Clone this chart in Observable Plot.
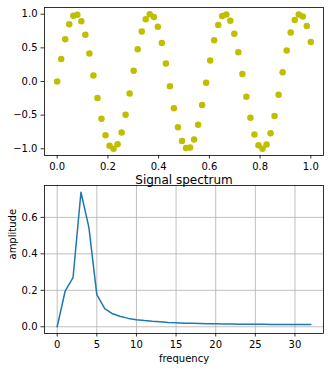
<!DOCTYPE html>
<html><head><meta charset="utf-8">
<script src="https://cdn.jsdelivr.net/npm/d3@7"></script>
<script src="https://cdn.jsdelivr.net/npm/@observablehq/plot@0.6"></script>
<style>
html,body{margin:0;padding:0;background:#fff;}
#wrap{position:relative;width:330px;height:371px;overflow:hidden;font-family:"DejaVu Sans";}
#wrap svg{position:absolute;left:0;background:transparent;overflow:visible;}
</style></head>
<body><div id="wrap"></div>
<script>
const time = [0,0.0159,0.0317,0.0476,0.0635,0.0794,0.0952,0.1111,0.1270,0.1429,0.1587,0.1746,0.1905,0.2063,0.2222,0.2381,0.2540,0.2698,0.2857,0.3016,0.3175,0.3333,0.3492,0.3651,0.3810,0.3968,0.4127,0.4286,0.4444,0.4603,0.4762,0.4921,0.5079,0.5238,0.5397,0.5556,0.5714,0.5873,0.6032,0.6190,0.6349,0.6508,0.6667,0.6825,0.6984,0.7143,0.7302,0.7460,0.7619,0.7778,0.7937,0.8095,0.8254,0.8413,0.8571,0.8730,0.8889,0.9048,0.9206,0.9365,0.9524,0.9683,0.9841,1.0];
const signal = [0,0.333,0.627,0.850,0.977,0.992,0.895,0.695,0.416,0.090,-0.247,-0.555,-0.800,-0.954,-0.999,-0.931,-0.757,-0.496,-0.179,0.159,0.478,0.743,0.924,0.999,0.960,0.812,0.571,0.266,-0.070,-0.398,-0.681,-0.885,-0.990,-0.981,-0.861,-0.643,-0.351,-0.020,0.314,0.612,0.840,0.973,0.995,0.903,0.709,0.434,0.110,-0.227,-0.538,-0.788,-0.948,-1.000,-0.938,-0.769,-0.513,-0.198,0.139,0.461,0.730,0.916,0.997,0.965,0.824,0.588];
const frequency = [0,1,2,3,4,5,6,7,8,9,10,11,12,13,14,15,16,17,18,19,20,21,22,23,24,25,26,27,28,29,30,31,32];
const amplitude = [0,0.195,0.269,0.738,0.545,0.176,0.100,0.071,0.056,0.046,0.039,0.034,0.030,0.027,0.024,0.022,0.020,0.019,0.018,0.017,0.016,0.0155,0.015,0.0145,0.014,0.014,0.0135,0.013,0.013,0.013,0.0125,0.0125,0.0125];
const topXTicks = [0,0.2,0.4,0.6,0.8,1.0];
const topYTicks = [-1,-0.5,0,0.5,1];
const botXTicks = [0,5,10,15,20,25,30];
const botYTicks = [0,0.2,0.4,0.6];

const sigData = time.map((t,i)=>({t, v: signal[i]}));
const specData = frequency.map((f,i)=>({f, a: amplitude[i]}));
const fmt1 = d3.format(".1f");
const style = {fontFamily:"DejaVu Sans", fontSize:"10px", color:"black", background:"transparent", overflow:"visible"};

const topChart = Plot.plot({
  width:330, height:175,
  marginLeft:44, marginRight:7, marginTop:7, marginBottom:20,
  style,
  x:{domain:[-0.05,1.05]},
  y:{domain:[-1.1,1.1]},
  marks:[
    Plot.dot(sigData,{x:"t", y:"v", r:3.25, fill:"#bfbf00", stroke:null}),
    Plot.frame({stroke:"black", strokeWidth:0.8}),
    Plot.axisX(topXTicks,{tickSize:3.5, tickPadding:3.5, tickFormat:fmt1, label:null, stroke:"black", strokeWidth:0.8}),
    Plot.axisY(topYTicks,{tickSize:3.5, tickPadding:3.5, tickFormat:fmt1, label:null, stroke:"black", strokeWidth:0.8})
  ]
});
topChart.style.top = "0px";

const botChart = Plot.plot({
  width:330, height:211,
  marginLeft:44, marginRight:7, marginTop:25, marginBottom:38,
  style,
  x:{domain:[-1.6,33.6]},
  y:{domain:[-0.0369,0.775]},
  marks:[
    Plot.gridX(botXTicks,{stroke:"#b0b0b0", strokeOpacity:1, strokeWidth:0.8}),
    Plot.gridY(botYTicks,{stroke:"#b0b0b0", strokeOpacity:1, strokeWidth:0.8}),
    Plot.line(specData,{x:"f", y:"a", stroke:"#1f77b4", strokeWidth:1.5}),
    Plot.frame({stroke:"black", strokeWidth:0.8}),
    Plot.axisX(botXTicks,{tickSize:3.5, tickPadding:3.5, tickFormat:d3.format("d"), label:null, stroke:"black", strokeWidth:0.8}),
    Plot.axisY(botYTicks,{tickSize:3.5, tickPadding:3.5, tickFormat:fmt1, label:null, stroke:"black", strokeWidth:0.8}),
    Plot.text(["Signal spectrum"],{frameAnchor:"top", dy:-10, fontSize:12, fill:"black"}),
    Plot.text(["frequency"],{frameAnchor:"bottom", dy:28, fontSize:10, fill:"black"}),
    Plot.text(["amplitude"],{frameAnchor:"left", dx:-32, rotate:-90, fontSize:10, fill:"black"})
  ]
});
botChart.style.top = "160px";

const wrap = document.getElementById("wrap");
wrap.appendChild(topChart);
wrap.appendChild(botChart);
</script></body></html>
